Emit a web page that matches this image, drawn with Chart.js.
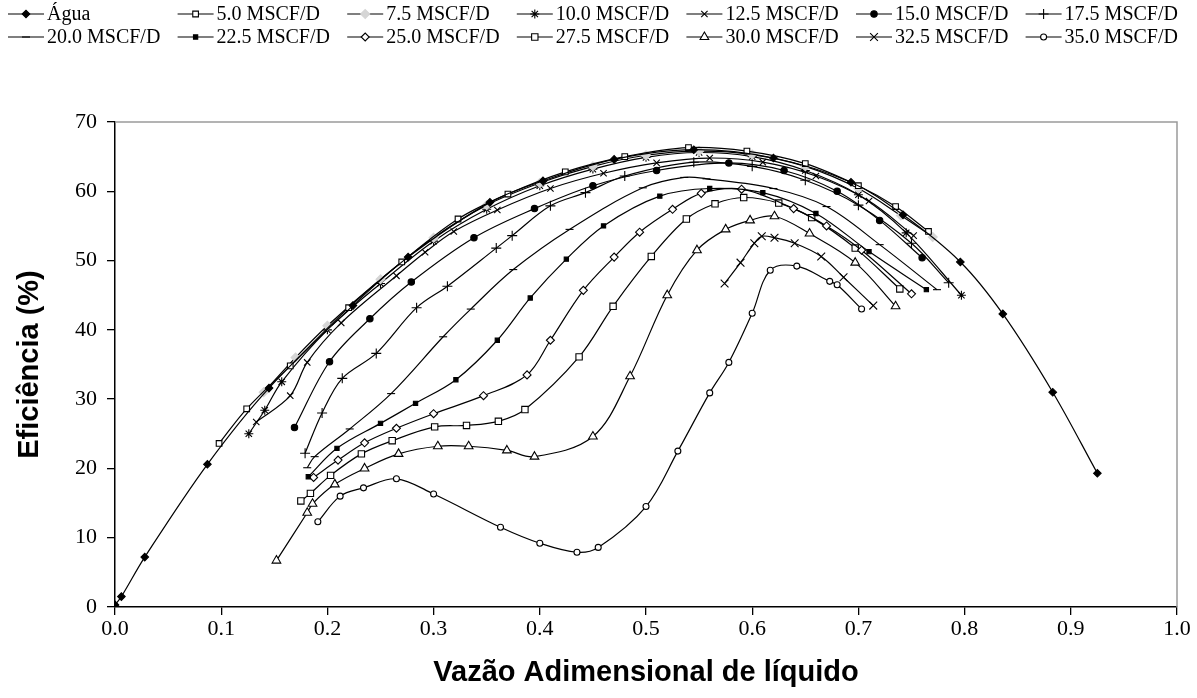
<!DOCTYPE html>
<html>
<head>
<meta charset="utf-8">
<script src="https://cdn.jsdelivr.net/npm/chart.js@4/dist/chart.umd.min.js"></script>
<style>
  html, body { margin: 0; padding: 0; background: #fff; }
  #wrap { width: 1197px; height: 698px; }
</style>
</head>
<body>
<div id="wrap"><canvas id="c" width="1197" height="698"></canvas></div>
<script>
// ---- data ----
const seriesNames = ['Água', '5.0 MSCF/D', '7.5 MSCF/D', '10.0 MSCF/D', '12.5 MSCF/D', '15.0 MSCF/D', '17.5 MSCF/D',
  '20.0 MSCF/D', '22.5 MSCF/D', '25.0 MSCF/D', '27.5 MSCF/D', '30.0 MSCF/D', '32.5 MSCF/D', '35.0 MSCF/D'];

const xTickLabels = ['0.0', '0.1', '0.2', '0.3', '0.4', '0.5', '0.6', '0.7', '0.8', '0.9', '1.0'];
const yTickLabels = ['0', '10', '20', '30', '40', '50', '60', '70'];

const aguaX = [0, 0.006, 0.028, 0.087, 0.145, 0.224, 0.276, 0.353, 0.403, 0.47, 0.545, 0.62, 0.693, 0.742, 0.796, 0.836, 0.883, 0.925];
const aguaY = [0.3, 1.5, 7.2, 20.6, 31.6, 43.5, 50.5, 58.4, 61.5, 64.6, 66.0, 64.8, 61.3, 56.6, 49.8, 42.3, 31.0, 19.3];

const s050X = [0.098, 0.124, 0.165, 0.22, 0.27, 0.323, 0.37, 0.424, 0.48, 0.54, 0.595, 0.65, 0.70, 0.735, 0.766];
const s050Y = [23.6, 28.6, 34.8, 43.2, 49.8, 56.0, 59.6, 62.8, 65.0, 66.3, 65.8, 64.0, 60.8, 57.8, 54.2];

const s075X = [0.14, 0.17, 0.2, 0.25, 0.3, 0.35, 0.4, 0.45, 0.5, 0.55, 0.6, 0.65, 0.7, 0.74, 0.77];
const s075Y = [31.0, 36.0, 40.6, 47.3, 53.3, 58.0, 61.2, 63.6, 65.2, 65.8, 65.3, 63.6, 60.4, 56.5, 53.4];

const s100X = [0.126, 0.141, 0.157, 0.2, 0.25, 0.3, 0.35, 0.4, 0.45, 0.5, 0.55, 0.6, 0.65, 0.7, 0.745, 0.797];
const s100Y = [25.0, 28.4, 32.5, 40.0, 46.7, 52.8, 57.4, 60.8, 63.2, 64.9, 65.6, 65.0, 63.0, 59.5, 54.0, 45.0];

const s125X = [0.133, 0.165, 0.181, 0.213, 0.265, 0.292, 0.319, 0.36, 0.41, 0.46, 0.51, 0.56, 0.61, 0.66, 0.71, 0.752];
const s125Y = [26.7, 30.5, 35.3, 41.0, 47.8, 51.2, 54.2, 57.3, 60.4, 62.6, 64.1, 64.8, 64.2, 62.2, 58.6, 53.6];

const s150X = [0.169, 0.202, 0.24, 0.279, 0.338, 0.395, 0.45, 0.51, 0.578, 0.63, 0.68, 0.72, 0.76];
const s150Y = [25.9, 35.4, 41.6, 46.9, 53.3, 57.5, 60.8, 63.0, 64.1, 63.0, 60.0, 55.8, 50.4];

const s175X = [0.179, 0.195, 0.214, 0.246, 0.284, 0.313, 0.359, 0.374, 0.41, 0.443, 0.48, 0.545, 0.6, 0.65, 0.7, 0.75, 0.785];
const s175Y = [22.2, 28.0, 33.0, 36.6, 43.2, 46.3, 51.8, 53.6, 57.9, 59.8, 62.2, 64.2, 63.6, 61.6, 58.0, 52.5, 46.8];

const s200X = [0.181, 0.188, 0.221, 0.26, 0.309, 0.335, 0.375, 0.428, 0.497, 0.536, 0.557, 0.62, 0.67, 0.72, 0.774];
const s200Y = [20.1, 21.7, 25.7, 30.8, 39.0, 43.0, 48.7, 54.5, 60.5, 62.0, 61.8, 60.4, 57.8, 52.3, 45.8];

const s225X = [0.182, 0.209, 0.25, 0.283, 0.321, 0.36, 0.391, 0.425, 0.46, 0.513, 0.56, 0.61, 0.66, 0.71, 0.764];
const s225Y = [18.8, 22.9, 26.5, 29.4, 32.8, 38.5, 44.6, 50.2, 55.0, 59.3, 60.4, 59.8, 56.8, 51.3, 45.8];

const s250X = [0.187, 0.21, 0.235, 0.265, 0.300, 0.347, 0.388, 0.41, 0.441, 0.47, 0.494, 0.525, 0.552, 0.59, 0.639, 0.67, 0.703, 0.75];
const s250Y = [18.7, 21.2, 23.7, 25.8, 27.9, 30.5, 33.5, 38.5, 45.7, 50.5, 54.1, 57.4, 59.7, 60.3, 57.5, 55.0, 51.5, 45.2];

const s275X = [0.175, 0.184, 0.203, 0.232, 0.261, 0.301, 0.331, 0.361, 0.386, 0.437, 0.469, 0.505, 0.538, 0.565, 0.592, 0.625, 0.656, 0.697, 0.739];
const s275Y = [15.3, 16.4, 19.0, 22.1, 24.0, 26.0, 26.2, 26.8, 28.5, 36.1, 43.4, 50.6, 56.0, 58.2, 59.1, 58.3, 56.2, 51.8, 45.9];

const s300X = [0.152, 0.181, 0.186, 0.207, 0.235, 0.267, 0.304, 0.333, 0.369, 0.395, 0.450, 0.485, 0.520, 0.548, 0.575, 0.598, 0.621, 0.654, 0.697, 0.735];
const s300Y = [6.7, 13.6, 14.9, 17.7, 20.0, 22.1, 23.2, 23.2, 22.6, 21.7, 24.6, 33.3, 45.0, 51.5, 54.5, 55.8, 56.4, 53.9, 49.7, 43.4];

const s325X = [0.574, 0.589, 0.602, 0.609, 0.621, 0.640, 0.665, 0.686, 0.714];
const s325Y = [46.7, 49.7, 52.5, 53.5, 53.3, 52.5, 50.6, 47.6, 43.5];

const s350X = [0.191, 0.212, 0.234, 0.265, 0.30, 0.363, 0.40, 0.435, 0.455, 0.50, 0.53, 0.56, 0.578, 0.60, 0.617, 0.642, 0.673, 0.68, 0.703];
const s350Y = [12.3, 16.0, 17.2, 18.5, 16.3, 11.5, 9.2, 7.9, 8.6, 14.5, 22.5, 30.9, 35.3, 42.4, 48.6, 49.2, 47.0, 46.5, 43.0];

const seriesX = [aguaX, s050X, s075X, s100X, s125X, s150X, s175X, s200X, s225X, s250X, s275X, s300X, s325X, s350X];
const seriesY = [aguaY, s050Y, s075Y, s100Y, s125Y, s150Y, s175Y, s200Y, s225Y, s250Y, s275Y, s300Y, s325Y, s350Y];

// ---- marker styles (presentation only) ----
const markerStyles = [
  { pointStyle: 'rectRot', radius: 3.8, fill: '#000', stroke: '#000' },
  { pointStyle: 'rect', radius: 4, fill: '#fff', stroke: '#000' },
  { pointStyle: 'rectRot', radius: 4.5, fill: '#d6d6d6', stroke: '#d6d6d6' },
  { pointStyle: 'star', radius: 4.5, fill: '#000', stroke: '#000' },
  { pointStyle: 'crossRot', radius: 4.5, fill: '#000', stroke: '#000' },
  { pointStyle: 'circle', radius: 3.2, fill: '#000', stroke: '#000' },
  { pointStyle: 'cross', radius: 5, fill: '#000', stroke: '#000' },
  { pointStyle: 'line', radius: 4, fill: '#000', stroke: '#000' },
  { pointStyle: 'rect', radius: 3, fill: '#000', stroke: '#000' },
  { pointStyle: 'rectRot', radius: 4, fill: '#fff', stroke: '#000' },
  { pointStyle: 'rect', radius: 4.5, fill: '#fff', stroke: '#000' },
  { pointStyle: 'triangle', radius: 5, fill: '#fff', stroke: '#000' },
  { pointStyle: 'crossRot', radius: 5.5, fill: '#000', stroke: '#000' },
  { pointStyle: 'circle', radius: 3, fill: '#fff', stroke: '#000' }
];

const datasets = seriesNames.map((name, i) => ({
  label: name,
  data: seriesX[i].map((x, j) => ({ x: x, y: seriesY[i][j] })),
  borderColor: '#000',
  borderWidth: 1.2,
  tension: 0.35,
  fill: false,
  pointStyle: markerStyles[i].pointStyle,
  pointRadius: markerStyles[i].radius,
  pointBackgroundColor: markerStyles[i].fill,
  pointBorderColor: markerStyles[i].stroke,
  pointBorderWidth: 1.1
}));

// gray border on top and right of the plot area
const areaBorder = {
  id: 'areaBorder',
  beforeDatasetsDraw(chart) {
    const { ctx, chartArea: a } = chart;
    ctx.save();
    ctx.strokeStyle = '#9a9a9a';
    ctx.lineWidth = 1.5;
    ctx.beginPath();
    ctx.moveTo(a.left, a.top);
    ctx.lineTo(a.right, a.top);
    ctx.lineTo(a.right, a.bottom);
    ctx.stroke();
    ctx.restore();
  }
};

// legend laid out in a 7-column grid like the original
const gridLegend = {
  id: 'gridLegend',
  afterDraw(chart) {
    const ctx = chart.ctx;
    ctx.save();
    chart.data.datasets.forEach((ds, i) => {
      const col = i % 7, row = Math.floor(i / 7);
      const x0 = 8 + col * 169.6;
      const y = 14 + row * 23;
      ctx.strokeStyle = '#000';
      ctx.lineWidth = 1.2;
      ctx.beginPath();
      ctx.moveTo(x0, y);
      ctx.lineTo(x0 + 36, y);
      ctx.stroke();
      ctx.fillStyle = ds.pointBackgroundColor;
      ctx.strokeStyle = ds.pointBorderColor;
      ctx.lineWidth = 1.1;
      Chart.helpers.drawPoint(ctx, { pointStyle: ds.pointStyle, radius: ds.pointRadius, borderWidth: 1.1, rotation: 0 }, x0 + 18, y);
      ctx.fillStyle = '#000';
      ctx.font = '20px "Liberation Serif"';
      ctx.textBaseline = 'middle';
      ctx.textAlign = 'left';
      ctx.fillText(ds.label, x0 + 39, y + 1);
    });
    ctx.restore();
  }
};

new Chart(document.getElementById('c'), {
  type: 'line',
  data: { datasets: datasets },
  plugins: [areaBorder, gridLegend],
  options: {
    responsive: false,
    animation: false,
    devicePixelRatio: 1,
    layout: { padding: { top: 122, right: 20, left: 0, bottom: 0 } },
    plugins: { legend: { display: false }, tooltip: { enabled: false } },
    scales: {
      x: {
        type: 'linear',
        min: 0, max: 1,
        afterFit: s => { s.height = 91; },
        ticks: {
          stepSize: 0.1, autoSkip: false, maxRotation: 0, padding: 1,
          color: '#000',
          font: { family: 'Liberation Serif', size: 22 },
          callback: (v, i) => xTickLabels[i]
        },
        grid: { drawOnChartArea: false, drawTicks: true, tickLength: 8, color: '#000', lineWidth: 1.3 },
        border: { display: true, color: '#000', width: 1.5 },
        title: {
          display: true, text: 'Vazão Adimensional de líquido', color: '#000',
          font: { family: 'Liberation Sans', size: 29, weight: 'bold' },
          padding: { top: 0, bottom: 8 }
        }
      },
      y: {
        type: 'linear',
        min: 0, max: 70,
        afterFit: s => { s.width = 115; },
        ticks: {
          stepSize: 10, padding: 10,
          color: '#000',
          font: { family: 'Liberation Serif', size: 22 },
          callback: (v, i) => yTickLabels[i]
        },
        grid: { drawOnChartArea: false, drawTicks: true, tickLength: 8, color: '#000', lineWidth: 1.3 },
        border: { display: true, color: '#000', width: 1.5 },
        title: {
          display: true, text: 'Eficiência (%)', color: '#000',
          font: { family: 'Liberation Sans', size: 29, weight: 'bold' },
          padding: { top: 13, bottom: 0 }
        }
      }
    }
  }
});
</script>
</body>
</html>
